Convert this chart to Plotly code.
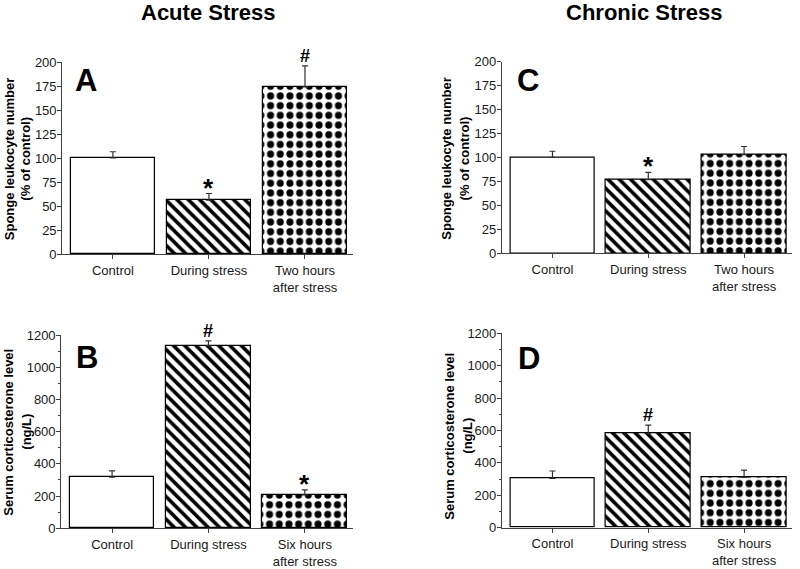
import plotly.graph_objects as go

# ---- data ----
cats_top = ["Control", "During stress", "Two hours<br>after stress"]
cats_bot = ["Control", "During stress", "Six hours<br>after stress"]

a_vals = [100, 56, 174]
a_err = [6.5, 7, 22]
a_marks = ["", "*", "#"]

c_vals = [100, 77, 103]
c_err = [6.5, 7.5, 8.5]
c_marks = ["", "*", ""]

b_vals = [317, 1133, 207]
b_err = [39, 31, 31]
b_marks = ["", "#", "*"]

d_vals = [305, 580, 311]
d_err = [45, 53, 45]
d_marks = ["", "#", ""]

ytitle_top = ["Sponge leukocyte number", "(% of control)"]
ytitle_bot = ["Serum corticosterone level", "(ng/L)"]

FONT = "Arial, Liberation Sans, sans-serif"
AX = "#404040"

fig = go.Figure()

panels = [
    # vals, err, marks, cats, axis id, label axis id, xdomain, ydomain, yrange, dtick, minor, title lines, title x, title y, letter, letter pos
    (a_vals, a_err, a_marks, cats_top, "", "5", [62/800, 353/800], [1-254/569, 1-62/569], [0, 200], 25, False,
     ytitle_top, (9.2, 24.7), 159, "A", (73, 61)),
    (c_vals, c_err, c_marks, cats_top, "2", "6", [501.7/800, 792/800], [1-253.3/569, 1-61.7/569], [0, 200], 25, False,
     ytitle_top, (445.7, 464.4), 158, "C", (515, 61)),
    (b_vals, b_err, b_marks, cats_bot, "3", "7", [61/800, 353/800], [1-528.3/569, 1-335/569], [0, 1200], 200, True,
     ytitle_bot, (7.7, 25.7), 432, "B", (74, 338)),
    (d_vals, d_err, d_marks, cats_bot, "4", "8", [501.7/800, 792/800], [1-527.7/569, 1-333.3/569], [0, 1200], 200, True,
     ytitle_bot, (448.7, 466.7), 436, "D", (516, 339)),
]

annotations = []
layout = {}
for vals, err, marks, cats, sid, lid, xd, yd, yr, dt, minor, ytitle, tx, ty, letter, lpos in panels:
    xa = "x" + sid
    ya = "y" + sid
    fig.add_trace(go.Bar(
        x=[0, 1, 2], y=vals, width=0.88,
        marker=dict(color="white", line=dict(color="black", width=1.2), pattern=dict(
            shape=["", "\\", "."],
            fgcolor="black", bgcolor="white",
            size=[8, 8, 9.7], solidity=[0.3, 0.45, 0.42], fillmode="replace")),
        error_y=dict(type="data", array=err, arrayminus=[0, 0, 0], symmetric=False,
                     color="#303030", thickness=1.2, width=3),
        xaxis=xa, yaxis=ya, showlegend=False, hoverinfo="skip",
    ))
    # invisible helper trace so the label-only axis gets drawn
    fig.add_trace(go.Scatter(
        x=[0, 1, 2], y=vals, mode="markers", marker=dict(opacity=0),
        xaxis=xa, yaxis="y" + lid, showlegend=False, hoverinfo="skip",
    ))
    layout["xaxis" + sid] = dict(
        domain=xd, anchor=ya, range=[-0.53, 2.5], automargin=False,
        tickvals=[0, 1, 2], ticktext=cats, ticks="outside", ticklen=4, tickcolor=AX,
        showline=True, linecolor=AX, linewidth=1.2, showgrid=False, zeroline=False,
        tickfont=dict(family=FONT, size=13, color="#1a1a1a"),
    )
    ydict = dict(
        domain=yd, anchor=xa, range=yr, dtick=dt, tick0=0, ticks="outside", ticklen=4, tickcolor=AX,
        showline=True, linecolor=AX, linewidth=1.2, showgrid=False, zeroline=False, automargin=False,
        showticklabels=False,
    )
    if minor:
        ydict["minor"] = dict(dtick=dt / 2, ticks="outside", ticklen=2, tickcolor=AX, showgrid=False)
    layout["yaxis" + sid] = ydict
    # label-only axis, placed so labels sit just left of the tick marks
    layout["yaxis" + lid] = dict(
        overlaying=ya, anchor="free", position=xd[0] - 5.4 / 800, side="left",
        range=yr, dtick=dt, tick0=0, ticks="", showline=False, showgrid=False, zeroline=False,
        automargin=False, fixedrange=True,
        tickfont=dict(family=FONT, size=13, color="#1a1a1a"),
    )
    for i, m in enumerate(marks):
        if m:
            top = vals[i] + err[i]
            annotations.append(dict(
                x=i, y=top, xref=xa, yref=ya, text="<b>%s</b>" % m, showarrow=False,
                yanchor="bottom", xanchor="center",
                yshift=-11 if m == "*" else -2,
                font=dict(family=FONT, size=26 if m == "*" else 18, color="black"),
            ))
    for line, lx in zip(ytitle, tx):
        annotations.append(dict(
            x=lx / 800, y=1 - ty / 569, xref="paper", yref="paper",
            text="<b>%s</b>" % line, textangle=-90, showarrow=False, xanchor="center", yanchor="middle",
            font=dict(family=FONT, size=13, color="black"),
        ))
    annotations.append(dict(
        x=lpos[0] / 800, y=1 - lpos[1] / 569, xref="paper", yref="paper",
        text="<b>%s</b>" % letter, showarrow=False, xanchor="left", yanchor="top",
        font=dict(family=FONT, size=31, color="black"),
    ))

annotations.append(dict(x=208.5/800, y=1-13/569, xref="paper", yref="paper", text="<b>Acute Stress</b>",
                        showarrow=False, xanchor="center", yanchor="middle",
                        font=dict(family=FONT, size=22, color="black")))
annotations.append(dict(x=644/800, y=1-13/569, xref="paper", yref="paper", text="<b>Chronic Stress</b>",
                        showarrow=False, xanchor="center", yanchor="middle",
                        font=dict(family=FONT, size=22, color="black")))

fig.update_layout(
    width=800, height=569, margin=dict(l=0, r=0, t=0, b=0),
    paper_bgcolor="white", plot_bgcolor="white",
    annotations=annotations, bargap=0,
    **layout,
)

fig.write_html("out.html", config={"displayModeBar": False},
               post_script="document.body.style.margin='0px';document.body.style.overflow='hidden';")
